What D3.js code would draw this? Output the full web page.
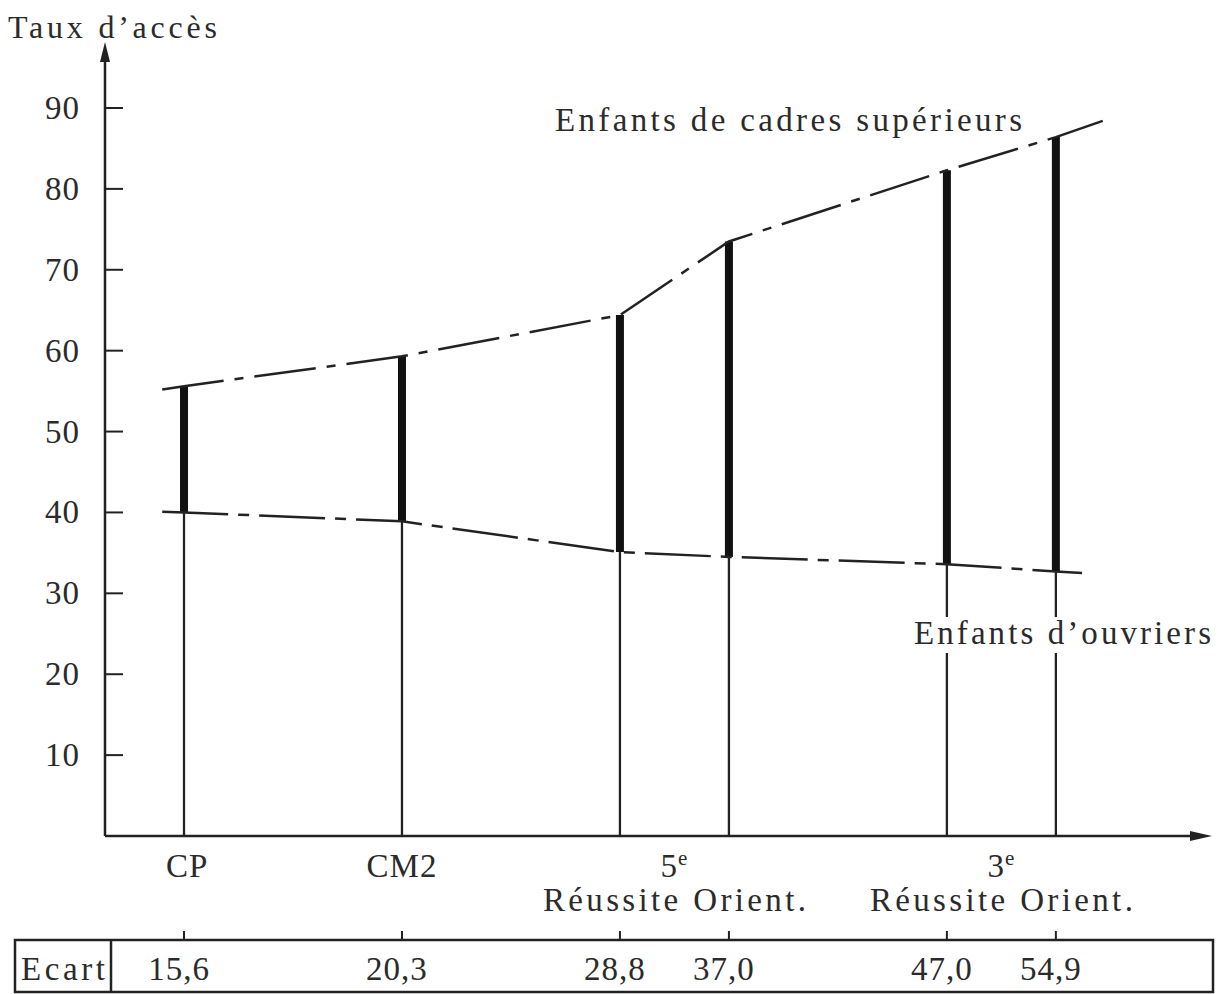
<!DOCTYPE html>
<html>
<head>
<meta charset="utf-8">
<script src="https://cdn.jsdelivr.net/npm/d3@7"></script>
<style>
  html, body { margin: 0; padding: 0; background: #fff; }
  svg text { font-family: "Liberation Serif", "Times New Roman", serif; fill: #2b2b2b; }
</style>
</head>
<body>
<div id="chart"></div>
<script>
// stages along the x axis (position in "columns")
const stages = ["CP", "CM2", "5e Réussite", "5e Orient.", "3e Réussite", "3e Orient."];
const stagePos = [0, 2, 4, 5, 7, 8];

// taux d'accès
const cadres = [55.6, 59.3, 64.4, 73.5, 82.3, 86.4];
const ouvriers = [40.0, 38.9, 35.1, 34.5, 33.6, 32.7];

// the lines run a little past the first and last stage
const cadresEnds = [[-0.2, 55.2], [8.43, 88.4]];
const ouvriersEnds = [[-0.2, 40.1], [8.24, 32.5]];

// ecart row (as printed)
const ecart = ["15,6", "20,3", "28,8", "37,0", "47,0", "54,9"];

const yTicks = [10, 20, 30, 40, 50, 60, 70, 80, 90];

// group labels under the axis
const groups = [
    { label: "CP", sup: "", pos: 0.03, sub: "" },
    { label: "CM2", sup: "", pos: 2, sub: "" },
    { label: "5", sup: "e", pos: 4.5, sub: "Réussite Orient." },
    { label: "3", sup: "e", pos: 7.5, sub: "Réussite Orient." }
];

const width = 1218, height = 994;

const svg = d3.select("#chart")
    .append("svg")
    .attr("width", width)
    .attr("height", height);

const x = d3.scaleLinear().domain([-0.725, 9.35]).range([105, 1203]);
const y = d3.scaleLinear().domain([0, 90]).range([836, 108]);

const ink = "#222";
const fs = "33px";

// axes
svg.append("line")
    .attr("x1", x(-0.725)).attr("y1", y(0))
    .attr("x2", x(-0.725)).attr("y2", 58)
    .style("stroke", ink).style("stroke-width", 2.5);
svg.append("path")
    .attr("d", `M${x(-0.725)},42 L${x(-0.725) - 5},62 L${x(-0.725) + 5},62 Z`)
    .style("fill", ink);

svg.append("line")
    .attr("x1", x(-0.725)).attr("y1", y(0))
    .attr("x2", 1195).attr("y2", y(0))
    .style("stroke", ink).style("stroke-width", 2.5);
svg.append("path")
    .attr("d", `M1212,${y(0)} L1190,${y(0) - 5} L1190,${y(0) + 5} Z`)
    .style("fill", ink);

// y ticks
svg.selectAll(".ytick")
    .data(yTicks)
    .enter().append("line")
        .attr("class", "ytick")
        .attr("x1", x(-0.725)).attr("x2", x(-0.725) + 18)
        .attr("y1", d => y(d)).attr("y2", d => y(d))
        .style("stroke", ink).style("stroke-width", 2);

svg.selectAll(".ylabel")
    .data(yTicks)
    .enter().append("text")
        .attr("class", "ylabel")
        .attr("x", 80)
        .attr("y", d => y(d) + 11)
        .attr("text-anchor", "end")
        .style("font-size", fs)
        .style("letter-spacing", "1px")
        .text(d => d);

svg.append("text")
    .attr("x", 8).attr("y", 38)
    .attr("textLength", 209).attr("lengthAdjust", "spacing")
    .style("font-size", "32px")
    .text("Taux d’accès");

// thin verticals from the workers' line down to the axis
svg.selectAll(".stem")
    .data(stagePos)
    .enter().append("line")
        .attr("class", "stem")
        .attr("x1", d => x(d)).attr("x2", d => x(d))
        .attr("y1", (d, i) => y(ouvriers[i]))
        .attr("y2", y(0))
        .style("stroke", ink).style("stroke-width", 2.3);

// thick bars for the gap
svg.selectAll(".gap")
    .data(stagePos)
    .enter().append("line")
        .attr("class", "gap")
        .attr("x1", d => x(d)).attr("x2", d => x(d))
        .attr("y1", (d, i) => y(cadres[i]))
        .attr("y2", (d, i) => y(ouvriers[i]))
        .style("stroke", "#111").style("stroke-width", 8);

// dash-dot lines
const line = d3.line().x(d => x(d[0])).y(d => y(d[1]));

const cadresPts = [cadresEnds[0]].concat(stagePos.map((p, i) => [p, cadres[i]]), [cadresEnds[1]]);
const ouvriersPts = [ouvriersEnds[0]].concat(stagePos.map((p, i) => [p, ouvriers[i]]), [ouvriersEnds[1]]);

svg.append("path")
    .attr("d", line(cadresPts))
    .style("fill", "none")
    .style("stroke", ink).style("stroke-width", 2.5)
    .style("stroke-dasharray", "62,11,9,11");

svg.append("path")
    .attr("d", line(ouvriersPts))
    .style("fill", "none")
    .style("stroke", ink).style("stroke-width", 2.5)
    .style("stroke-dasharray", "66,10,11,10");

// series labels
svg.append("text")
    .attr("x", 555).attr("y", 131)
    .attr("textLength", 467).attr("lengthAdjust", "spacing")
    .style("font-size", fs)
    .text("Enfants de cadres supérieurs");

// the stems are broken where the workers' label crosses them
svg.append("rect")
    .attr("x", 910).attr("y", 617)
    .attr("width", 305).attr("height", 36)
    .style("fill", "#fff");

svg.append("text")
    .attr("x", 914).attr("y", 644)
    .attr("textLength", 297).attr("lengthAdjust", "spacing")
    .style("font-size", fs)
    .text("Enfants d’ouvriers");

// group labels
const g = svg.selectAll(".group")
    .data(groups)
    .enter().append("g")
    .attr("class", "group");

g.append("text")
    .attr("x", d => x(d.pos))
    .attr("y", 877)
    .attr("text-anchor", "middle")
    .style("font-size", fs)
    .style("letter-spacing", "1px")
    .each(function(d) {
        const t = d3.select(this);
        t.append("tspan").text(d.label);
        if (d.sup) {
            t.append("tspan")
                .attr("dy", -12)
                .style("font-size", "21px")
                .text(d.sup);
        }
    });

g.filter(d => d.sub)
    .append("text")
    .attr("x", d => x(d.pos))
    .attr("y", 911)
    .attr("text-anchor", "middle")
    .attr("textLength", 263).attr("lengthAdjust", "spacing")
    .style("font-size", fs)
    .text(d => d.sub);

// ecart table
const boxTop = 940, boxBottom = 992;
svg.append("rect")
    .attr("x", 15).attr("y", boxTop)
    .attr("width", 1213 - 15).attr("height", boxBottom - boxTop)
    .style("fill", "none")
    .style("stroke", ink).style("stroke-width", 2.5);

svg.append("line")
    .attr("x1", 111).attr("x2", 111)
    .attr("y1", boxTop).attr("y2", boxBottom)
    .style("stroke", ink).style("stroke-width", 2.5);

svg.selectAll(".etick")
    .data(stagePos)
    .enter().append("line")
        .attr("class", "etick")
        .attr("x1", d => x(d)).attr("x2", d => x(d))
        .attr("y1", boxTop - 9).attr("y2", boxTop)
        .style("stroke", ink).style("stroke-width", 2);

svg.append("text")
    .attr("x", 21).attr("y", 980)
    .attr("textLength", 84).attr("lengthAdjust", "spacing")
    .style("font-size", fs)
    .text("Ecart");

svg.selectAll(".ecart")
    .data(ecart)
    .enter().append("text")
        .attr("class", "ecart")
        .attr("x", (d, i) => x(stagePos[i]) - 5)
        .attr("y", 980)
        .attr("text-anchor", "middle")
        .style("font-size", fs)
        .style("letter-spacing", "1px")
        .text(d => d);
</script>
</body>
</html>
